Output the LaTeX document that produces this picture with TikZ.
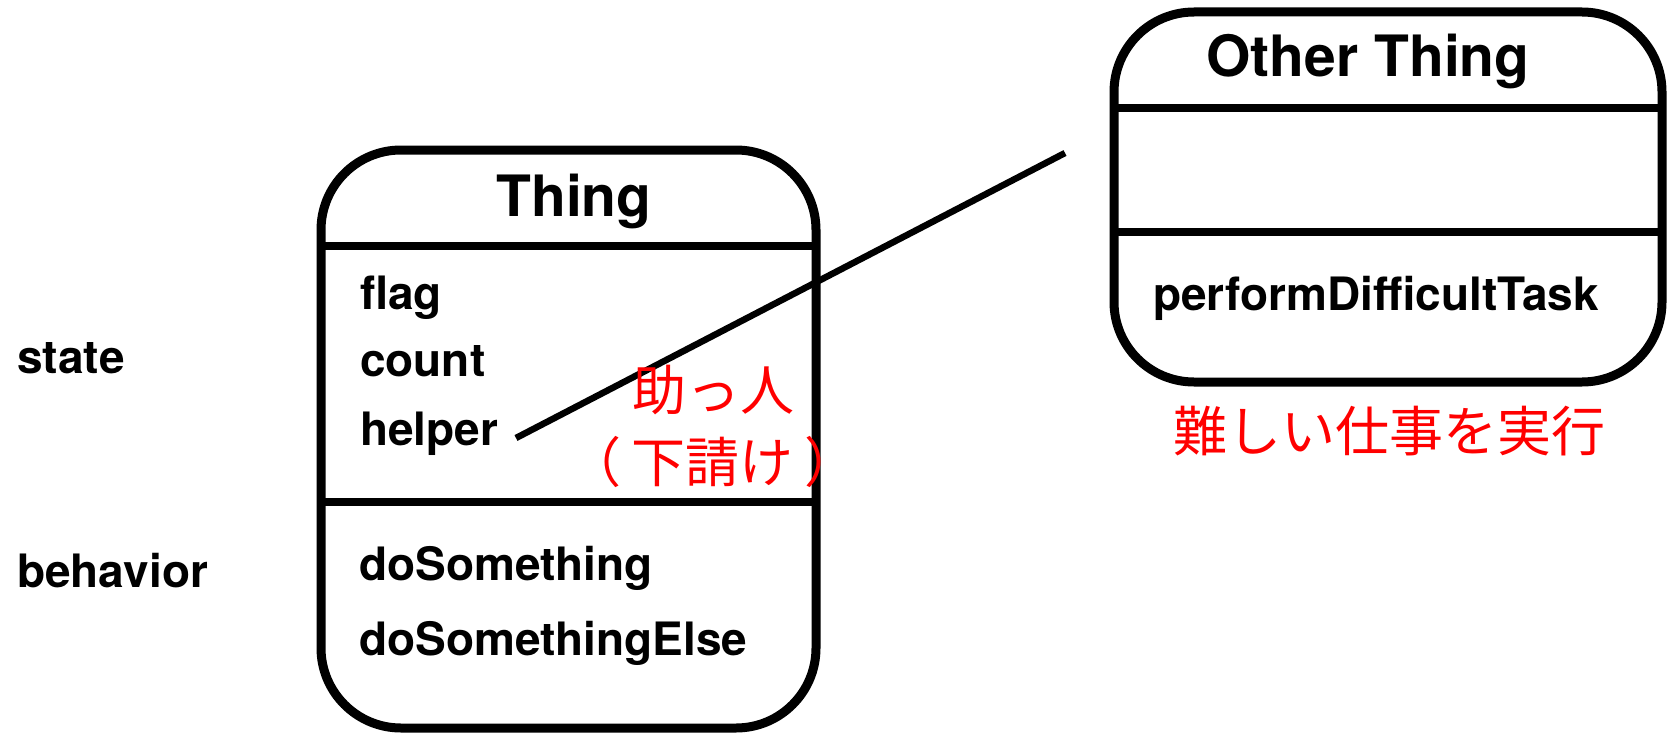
\documentclass[tikz,border=0pt]{standalone}
\usepackage{fontspec}
\setmainfont{TeX Gyre Heros}
\newfontfamily\jpfont{Noto Sans CJK JP}
\begin{document}
\begin{tikzpicture}[x=1pt,y=-1pt,
  box/.style={draw, line width=9pt, rounded corners=80pt, outer sep=0pt, inner sep=0pt, anchor=north west},
  divider/.style={line width=7.5pt},
  conn/.style={line width=6.5pt},
  lbl/.style={anchor=base west, inner sep=0pt, font=\fontsize{46}{55}\selectfont\bfseries},
  ttl/.style={anchor=base, inner sep=0pt, font=\fontsize{57}{68}\selectfont\bfseries},
  jp/.style={inner sep=0pt, text=red, align=center}]
\useasboundingbox (0,0) rectangle (1667,733);

% Thing box
\node[box, minimum width=495pt, minimum height=578pt] (thing) at (321,150) {};
\coordinate (t1) at (0,246);
\coordinate (t2) at (0,502);
\draw[divider] (thing.west |- t1) -- (thing.east |- t1);
\draw[divider] (thing.west |- t2) -- (thing.east |- t2);
\node[ttl] (thingtitle) at (574,216) {Thing};
\node[lbl] (flag) at (360,309) {flag};
\node[lbl] (count) at (360,376) {count};
\node[lbl] (helper) at (360,445) {helper};
\node[lbl] (dosome) at (359,580) {doSomething};
\node[lbl] (doelse) at (359,655) {doSomethingElse};

% side labels
\node[lbl] (state) at (17,373) {state};
\node[lbl] (behavior) at (17,587) {behavior};

% Other Thing box
\node[box, minimum width=548pt, minimum height=370pt] (other) at (1114,12) {};
\coordinate (o1) at (0,108);
\coordinate (o2) at (0,232);
\draw[divider] (other.west |- o1) -- (other.east |- o1);
\draw[divider] (other.west |- o2) -- (other.east |- o2);
\node[ttl] (othertitle) at (1368,77) {Other Thing};
\node[lbl] (perform) at (1153,310) {performDifficultTask};

% connector
\coordinate (hs) at (516,438);
\coordinate (he) at (1065,153);
\draw[conn] (hs) -- (he);

% Japanese annotations
\node[jp, font=\jpfont\fontsize{54}{72}\selectfont] (helperjp) at (713,426) {助っ人\\（\kern11pt下請け\kern11pt）};
\node[jp, font=\jpfont\fontsize{54}{72}\selectfont] (taskjp) at (1389,431) {難しい仕事を実行};
\end{tikzpicture}
\end{document}
